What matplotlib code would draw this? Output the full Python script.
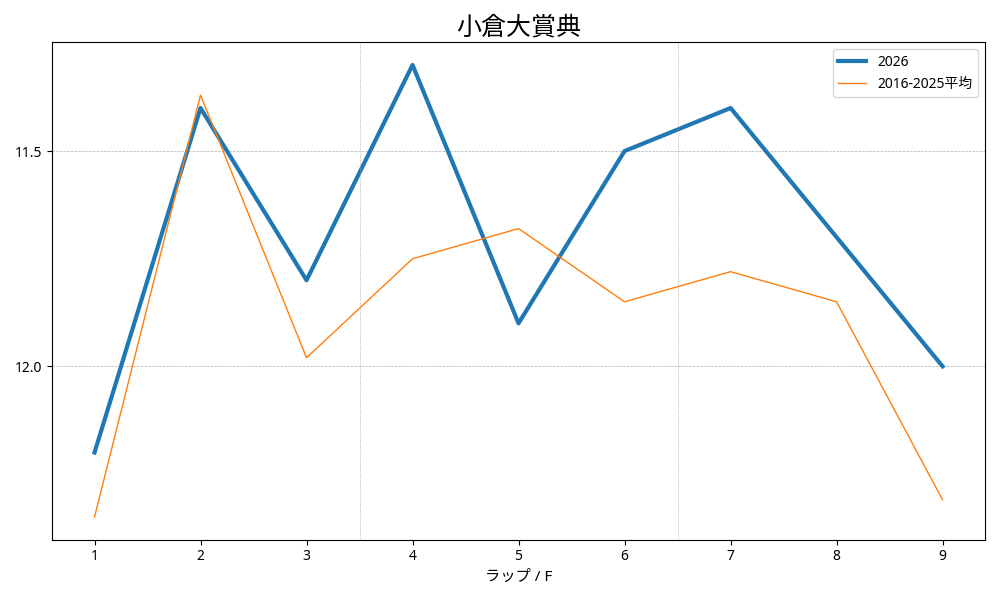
import matplotlib
matplotlib.use('Agg')
import matplotlib.pyplot as plt

plt.rcParams['font.family'] = ['Noto Sans', 'Noto Sans CJK JP', 'DejaVu Sans']

laps = [1, 2, 3, 4, 5, 6, 7, 8, 9]
lap_2026 = [12.2, 11.4, 11.8, 11.3, 11.9, 11.5, 11.4, 11.7, 12.0]
lap_avg = [12.35, 11.37, 11.98, 11.75, 11.68, 11.85, 11.78, 11.85, 12.31]
yticks = [11.5, 12.0]
vlines = [3.5, 6.5]

fig, ax = plt.subplots(figsize=(10, 6), dpi=100)
ax.plot(laps, lap_2026, color='#1f77b4', lw=3, label='2026')
ax.plot(laps, lap_avg, color='#ff7f0e', lw=1, label='2016-2025平均')
ax.invert_yaxis()
ax.set_yticks(yticks)
ax.set_xticks(laps)
ax.grid(axis='y', ls='--', lw=0.5, color='#b0b0b0')
for v in vlines:
    ax.axvline(v, ls=':', lw=0.6, color='#a0a0a0')
ax.set_xlabel('ラップ / F', fontsize=11)
ax.set_title('小倉大賞典', fontsize=18)
ax.legend(loc='upper right')
fig.tight_layout()
fig.savefig('out.png')
